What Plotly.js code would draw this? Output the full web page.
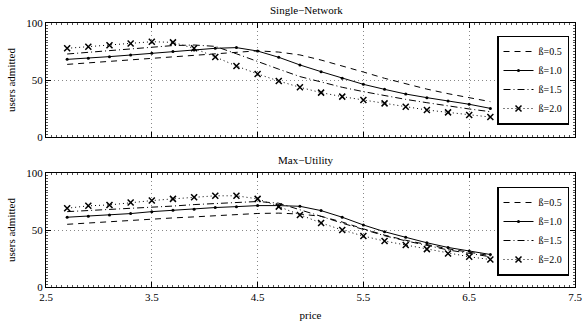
<!DOCTYPE html>
<html><head><meta charset="utf-8">
<script src="https://cdn.plot.ly/plotly-3.0.1.min.js"></script>
<style>body{margin:0;background:#fff}#chart{width:586px;height:329px}</style>
</head><body><div id="chart"></div>
<script>
const price = [2.7,2.9,3.1,3.3,3.5,3.7,3.9,4.1,4.3,4.5,4.7,4.9,5.1,5.3,5.5,5.7,5.9,6.1,6.3,6.5,6.7];
const seriesNames = ["ß=0.5","ß=1.0","ß=1.5","ß=2.0"];
const xTicks = [2.5,3.5,4.5,5.5,6.5,7.5];
const yTicks = [0,50,100];

// Single-Network
const snB05 = [63.7,65.0,66.3,67.7,69.0,70.3,71.5,72.8,74.2,75.6,74.5,72.0,67.5,62.5,57.0,51.5,46.5,42.0,38.0,34.5,31.0];
const snB10 = [68.1,69.0,70.5,71.9,73.4,74.9,76.3,77.8,78.4,75.4,69.9,63.2,57.3,51.5,46.2,41.8,37.7,34.5,31.6,28.7,25.1];
const snB15 = [72.8,74.4,76.0,77.6,79.2,80.2,80.7,79.5,73.0,66.1,59.5,53.0,48.0,43.6,39.8,36.3,33.0,30.1,27.2,24.6,22.2];
const snB20 = [77.8,79.2,80.4,82.0,83.6,83.0,77.8,70.2,62.3,55.3,49.1,43.6,38.9,35.4,32.5,29.5,26.6,23.7,21.6,19.3,17.5];

// Max-Utility
const muB05 = [55.0,56.2,57.3,58.5,59.7,60.6,61.5,62.5,63.5,64.5,64.8,64.0,62.0,57.0,51.0,45.5,41.0,37.0,33.5,30.5,27.5];
const muB10 = [61.2,62.1,63.2,64.4,66.1,67.4,68.3,69.7,70.5,71.4,71.4,70.8,67.0,61.2,54.4,48.5,43.6,38.8,34.7,31.5,28.5];
const muB15 = [66.1,67.0,67.9,68.8,69.7,71.0,72.3,73.3,74.2,75.0,73.5,68.0,62.0,56.0,50.5,45.0,40.5,36.5,32.5,29.5,26.5];
const muB20 = [69.1,71.2,72.0,74.1,75.8,77.3,78.8,80.0,80.0,77.3,70.5,63.2,56.2,50.0,44.7,40.3,36.8,33.2,29.4,26.5,24.1];

const FONT = "Liberation Serif, Times New Roman, serif";
const styles = [
  {mode:'lines', line:{color:'#000',width:1,dash:'6px,5px'}},
  {mode:'lines+markers', line:{color:'#000',width:1}, marker:{symbol:'circle',size:3,color:'#000'}},
  {mode:'lines', line:{color:'#000',width:1,dash:'7px,3px,1px,3px'}},
  {mode:'lines+markers', line:{color:'#000',width:1,dash:'1px,3px'}, marker:{symbol:'x-thin',size:6,color:'#000',line:{width:1.5,color:'#000'}}}
];

function makeTraces(sets, xa, ya, leg) {
  return sets.map((ys,i) => Object.assign({
    type:'scatter', x: price, y: ys, name: seriesNames[i], xaxis: xa, yaxis: ya, legend: leg, showlegend: true
  }, JSON.parse(JSON.stringify(styles[i]))));
}

const data = [
  ...makeTraces([snB05,snB10,snB15,snB20],'x','y','legend'),
  ...makeTraces([muB05,muB10,muB15,muB20],'x2','y2','legend2')
];

const H = 329, W = 586, L = 46, R = 11;
function dom(top, bot){ return [1-bot/H, 1-top/H]; }

const axX = (showLabels, anchor) => ({
  range:[2.5,7.5], tickvals:xTicks, ticktext:xTicks.map(v=>v.toFixed(1)),
  showticklabels: showLabels, ticks:'inside', ticklen:5, tickwidth:1, tickcolor:'#000',
  showline:true, linecolor:'#000', linewidth:1, mirror:'allticks',
  showgrid:true, gridcolor:'#888', griddash:'1px,3px', gridwidth:1,
  zeroline:false, anchor: anchor, fixedrange:true,
  minor:{ticks:'inside', ticklen:2, dtick:0.05, tickcolor:'#555', showgrid:false},
  tickfont:{family:FONT,size:11,color:'#000'}
});
const axY = (d, anchor) => ({
  domain:d, range:[0,100], tickvals:yTicks, ticks:'inside', ticklen:5, tickcolor:'#000',
  showline:true, linecolor:'#000', linewidth:1, mirror:'allticks',
  showgrid:true, gridcolor:'#888', griddash:'1px,3px', gridwidth:1,
  zeroline:false, anchor: anchor,
  minor:{ticks:'inside', ticklen:2, dtick:2.5, tickcolor:'#555', showgrid:false},
  tickfont:{family:FONT,size:11,color:'#000'},
  title:{text:'users admitted', font:{family:FONT,size:11,color:'#000'}, standoff:8}
});

const legendBase = (yMid) => ({
  x:(569-L)/(W-L-R), xanchor:'right', y:1-yMid/H, yanchor:'middle',
  bgcolor:'#fff', bordercolor:'#000', borderwidth:1.5,
  font:{family:FONT,size:10,color:'#000'}, itemwidth:30, tracegroupgap:0
});

const layout = {
  width:W, height:H, margin:{l:L, r:R, t:0, b:0},
  paper_bgcolor:'#fff', plot_bgcolor:'#fff',
  font:{family:FONT,size:11,color:'#000'},
  xaxis: axX(false,'y'),
  yaxis: axY(dom(23,137),'x'),
  xaxis2: Object.assign(axX(true,'y2'), {title:{text:'price', font:{family:FONT,size:11,color:'#000'}, standoff:9}}),
  yaxis2: axY(dom(173,287),'x2'),
  legend: legendBase(80),
  legend2: legendBase(231),
  annotations:[
    {text:'Single−Network', xref:'paper', yref:'paper', x:0.492, y:1-10/H, yanchor:'middle', showarrow:false, font:{family:FONT,size:11,color:'#000'}},
    {text:'Max−Utility', xref:'paper', yref:'paper', x:0.492, y:1-160/H, yanchor:'middle', showarrow:false, font:{family:FONT,size:11,color:'#000'}}
  ]
};

Plotly.newPlot('chart', data, layout, {displayModeBar:false, staticPlot:true});
</script>
</body></html>
